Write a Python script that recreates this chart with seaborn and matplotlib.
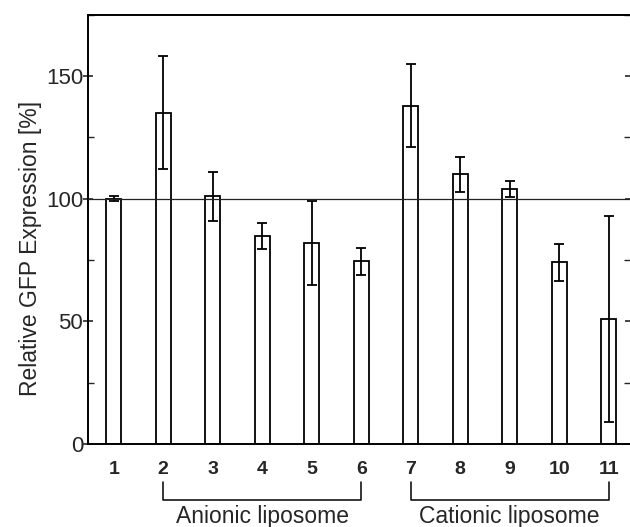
import numpy as np
import pandas as pd
import seaborn as sns
import matplotlib.pyplot as plt
from matplotlib.ticker import MultipleLocator

# values
samples = ['1', '2', '3', '4', '5', '6', '7', '8', '9', '10', '11']
expression = [100, 135, 101, 85, 82, 74.5, 138, 110, 104, 74, 51]
error = [1, 23, 10, 5.3, 17, 5.5, 17, 7.2, 3.4, 7.5, 42]
groups = ['Anionic liposome', 'Cationic liposome']
group_span = [(1, 5), (6, 10)]

df = pd.DataFrame({'sample': samples, 'expr': expression, 'err': error})

sns.set_style('white')
plt.rcParams['font.family'] = ['Liberation Sans', 'DejaVu Sans']

fig = plt.figure(figsize=(6.3, 5.27), dpi=100)
ax = fig.add_axes([0.1397, 0.1575, 0.8603, 0.8145])

sns.barplot(data=df, x='sample', y='expr', order=samples, width=0.31,
            color='white', edgecolor='black', linewidth=1.3, ax=ax,
            errorbar=None, zorder=2)
ax.errorbar(np.arange(len(samples)), df['expr'], yerr=df['err'], fmt='none',
            ecolor='black', elinewidth=1.3, capsize=3.6, capthick=1.3, zorder=3)
ax.axhline(100, color='#222222', lw=0.9, zorder=4)

ax.set_xlim(-0.52, 10.43)
ax.set_ylim(0, 175)
ax.yaxis.set_major_locator(MultipleLocator(50))
ax.yaxis.set_minor_locator(MultipleLocator(25))

for side in ['left', 'top', 'bottom']:
    ax.spines[side].set_visible(True)
    ax.spines[side].set_color('black')
    ax.spines[side].set_linewidth(1.4)
ax.spines['right'].set_visible(False)

ax.tick_params(axis='y', which='major', direction='inout', length=7, width=1.2,
               labelsize=16, pad=0, right=True, left=True)
ax.tick_params(axis='y', which='minor', direction='in', length=4, width=1,
               right=True, left=True)
ax.tick_params(axis='x', length=0, pad=12, labelsize=14)
for lab in ax.get_xticklabels():
    lab.set_fontweight('bold')

ax.set_xlabel('')
ax.set_ylabel('Relative GFP Expression [%]', fontsize=16.5)
ax.yaxis.set_label_coords(-0.085, 0.455)

# group brackets under the axis
trans = ax.get_xaxis_transform()
for name, (a, b) in zip(groups, group_span):
    ax.plot([a, a, b, b], [-0.088, -0.13, -0.13, -0.088], color='black',
            lw=1.1, transform=trans, clip_on=False)
    ax.text((a + b) / 2, -0.168, name, transform=trans, ha='center',
            va='center', fontsize=16.5)

fig.savefig('out.png', dpi=100)
